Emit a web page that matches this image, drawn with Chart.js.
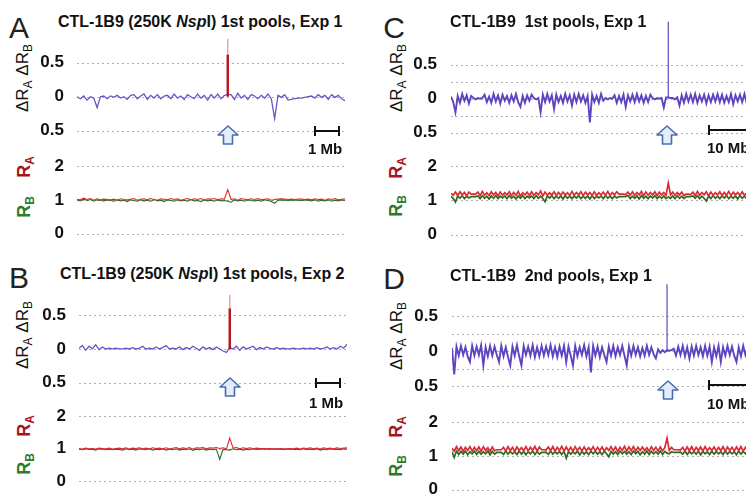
<!DOCTYPE html>
<html>
<head>
<meta charset="utf-8">
<script src="https://cdn.jsdelivr.net/npm/chart.js@4.4.1/dist/chart.umd.min.js"></script>
<style>
  html, body { margin: 0; padding: 0; background: #fff; }
  #fig { position: relative; width: 746px; height: 495px; overflow: hidden; font-family: "Liberation Sans", Arial, sans-serif; }
  canvas { position: absolute; }
  .letter { position: absolute; font-size: 30px; line-height: 1; color: #222; transform: translate(-50%, -50%); }
  .title { position: absolute; font-size: 16px; font-weight: bold; line-height: 1; white-space: pre; color: #111; transform: translate(0, -50%); }
  .ylab { position: absolute; font-size: 17px; line-height: 1; white-space: pre; color: #111; transform: translate(-50%, -50%) rotate(-90deg); }
  .ylab sub { font-size: 12px; vertical-align: -4px; line-height: 0; }
  .ra { color: #a8141c; font-weight: bold; font-size: 18px; }
  .rb { color: #2d7a2a; font-weight: bold; font-size: 18px; }
  .mb { position: absolute; font-size: 15px; font-weight: bold; line-height: 1; white-space: pre; color: #111; transform: translate(0, -50%); }
  svg { position: absolute; overflow: visible; }
</style>
</head>
<body>
<div id="fig">
  <canvas id="aTop"></canvas><canvas id="aBot"></canvas>
  <canvas id="bTop"></canvas><canvas id="bBot"></canvas>
  <canvas id="cTop"></canvas><canvas id="cBot"></canvas>
  <canvas id="dTop"></canvas><canvas id="dBot"></canvas>

  <div class="letter" style="left:19px;top:28px">A</div>
  <div class="letter" style="left:19px;top:278px">B</div>
  <div class="letter" style="left:394px;top:28px">C</div>
  <div class="letter" style="left:394px;top:279px">D</div>

  <div class="title" style="left:58px;top:22px">CTL-1B9 (250K <i>Nsp</i>I) 1st pools, Exp 1</div>
  <div class="title" style="left:60px;top:274px">CTL-1B9 (250K <i>Nsp</i>I) 1st pools, Exp 2</div>
  <div class="title" style="left:450px;top:22px">CTL-1B9  1st pools, Exp 1</div>
  <div class="title" style="left:450px;top:276px">CTL-1B9  2nd pools, Exp 1</div>

  <div class="ylab" style="left:22px;top:78px">ΔR<sub>A</sub> ΔR<sub>B</sub></div>
  <div class="ylab" style="left:22px;top:335px">ΔR<sub>A</sub> ΔR<sub>B</sub></div>
  <div class="ylab" style="left:396px;top:78px">ΔR<sub>A</sub> ΔR<sub>B</sub></div>
  <div class="ylab" style="left:396px;top:336px">ΔR<sub>A</sub> ΔR<sub>B</sub></div>

  <div class="ylab ra" style="left:24px;top:167px">R<sub>A</sub></div>
  <div class="ylab rb" style="left:24px;top:207px">R<sub>B</sub></div>
  <div class="ylab ra" style="left:24px;top:426px">R<sub>A</sub></div>
  <div class="ylab rb" style="left:24px;top:464px">R<sub>B</sub></div>
  <div class="ylab ra" style="left:396px;top:168px">R<sub>A</sub></div>
  <div class="ylab rb" style="left:396px;top:206px">R<sub>B</sub></div>
  <div class="ylab ra" style="left:396px;top:427px">R<sub>A</sub></div>
  <div class="ylab rb" style="left:396px;top:466px">R<sub>B</sub></div>

  <div class="mb" style="left:308px;top:148px">1 Mb</div>
  <div class="mb" style="left:309px;top:402px">1 Mb</div>
  <div class="mb" style="left:707px;top:147px">10 Mb</div>
  <div class="mb" style="left:707px;top:403px">10 Mb</div>
</div>

<script>
// y ticks
const upperTicks = [-0.5, -0.25, 0, 0.25, 0.5];
const lowerTicks = [0, 0.5, 1, 1.5, 2];

// panel A : CTL-1B9 (250K NspI) 1st pools, Exp 1
const deltaA = [0.00,-0.03,0.01,-0.05,0.00,-0.02,-0.16,0.00,0.01,-0.03,
  0.01,-0.01,0.02,-0.02,0.00,-0.04,0.02,0.03,-0.03,0.01,
  0.04,-0.04,0.02,-0.02,0.03,-0.03,0.01,0.02,-0.03,0.04,
  -0.02,0.01,-0.04,0.03,0.00,-0.03,0.04,-0.02,0.02,-0.05,
  0.03,-0.02,0.04,-0.03,0.02,0.03,0.03,-0.04,0.05,-0.02,
  0.02,-0.04,0.03,0.01,-0.03,0.02,-0.02,0.04,-0.03,-0.32,
  0.02,-0.01,0.03,-0.05,-0.04,-0.03,-0.02,-0.02,-0.01,0.00,
  0.01,-0.02,0.03,-0.01,0.02,-0.04,0.03,-0.01,0.02,-0.03,-0.06];
const peakPosA = 45;
const peakA = [0.62, 0.85];
const redA = [1.02,1.00,1.05,1.01,1.04,0.99,1.03,1.00,1.02,1.01,
  1.00,1.02,0.99,1.03,1.01,1.00,1.02,1.04,0.99,1.02,
  1.03,1.00,1.04,1.01,0.99,1.03,1.02,1.00,1.04,1.01,
  1.03,0.99,1.02,1.04,1.00,1.03,1.01,1.04,0.99,1.03,
  1.02,1.04,1.00,1.03,1.02,1.30,1.01,1.03,0.99,1.04,
  1.02,1.00,1.03,1.01,1.04,1.00,1.02,1.03,0.99,1.01,
  1.02,1.03,1.02,1.01,1.02,1.01,1.02,1.02,1.01,1.02,
  1.00,1.03,1.01,1.02,0.99,1.03,1.01,1.04,1.00,1.02,1.03];
const greenA = [1.00,0.97,1.02,0.98,1.01,0.96,1.00,0.98,0.97,1.00,
  0.98,0.96,1.00,0.97,0.99,0.95,1.00,0.98,0.96,1.00,
  0.97,0.99,0.96,1.01,0.97,0.99,0.95,1.00,0.98,0.96,
  1.00,0.97,0.99,0.96,1.01,0.97,0.98,0.95,1.00,0.97,
  0.99,0.96,1.00,0.97,0.98,0.96,0.93,1.00,0.97,0.99,
  0.96,1.00,0.98,0.97,0.99,0.96,1.00,0.98,0.95,0.90,
  0.99,1.00,0.99,0.98,0.99,1.00,0.99,0.98,1.00,0.99,
  0.97,1.00,0.96,0.99,0.97,1.00,0.96,0.99,0.97,1.00,0.98];

// panel B : CTL-1B9 (250K NspI) 1st pools, Exp 2
const deltaB = [0.01,0.05,-0.02,0.04,0.00,0.06,-0.01,0.03,0.00,0.01,
  0.00,0.01,0.00,0.00,0.01,0.00,0.02,0.00,0.01,0.04,
  0.00,0.01,0.00,0.03,0.00,0.02,0.05,0.00,0.01,0.00,
  0.03,-0.01,0.02,0.00,0.04,0.01,-0.02,0.03,0.00,0.02,
  -0.01,0.03,0.00,-0.03,-0.05,0.02,0.00,0.04,-0.02,0.03,
  0.00,0.02,0.04,-0.01,0.02,0.00,0.03,0.01,0.00,0.02,
  0.00,0.01,0.00,0.00,0.01,0.00,0.00,0.01,0.00,0.01,
  0.00,0.02,0.00,0.01,0.03,0.00,0.02,0.00,0.04,0.01,0.07];
const peakPosB = 45;
const peakB = [0.60, 0.80];
const redB = [1.01,0.99,1.02,1.00,1.01,0.99,1.02,1.01,1.00,1.02,
  0.99,1.01,1.02,1.00,1.03,0.99,1.02,1.01,1.03,1.00,
  1.02,0.99,1.03,1.01,1.02,1.00,1.03,0.99,1.02,1.04,
  1.00,1.03,1.01,1.04,0.99,1.03,1.02,1.04,1.00,1.03,
  1.02,1.04,1.01,1.03,1.00,1.33,1.02,1.04,1.00,1.03,
  1.01,1.03,1.00,1.02,1.01,1.01,1.00,1.01,1.00,1.00,
  1.01,1.00,1.00,1.01,1.00,1.02,0.99,1.02,1.01,1.03,
  1.00,1.02,0.99,1.03,1.01,1.02,1.00,1.03,1.01,1.02,1.03];
const greenB = [0.99,0.97,1.00,0.98,0.99,0.96,1.00,0.98,0.97,0.99,
  0.97,0.99,0.98,0.96,1.00,0.97,0.99,0.96,1.00,0.98,
  0.97,1.00,0.96,0.99,0.97,1.00,0.96,0.99,0.97,1.00,
  0.96,0.99,0.97,1.00,0.95,0.99,0.97,1.00,0.96,0.99,
  0.97,0.99,0.68,0.98,0.97,0.96,1.00,0.97,0.99,0.96,
  0.99,0.97,1.00,0.98,0.99,0.99,0.99,0.99,0.99,0.99,
  0.99,0.98,0.99,0.99,0.98,0.99,0.97,1.00,0.98,0.99,
  0.97,1.00,0.96,0.99,0.97,1.00,0.98,0.99,0.97,1.00,0.99];

// panel C : CTL-1B9 1st pools, Exp 1
const deltaC = [0.03,-0.05,-0.20,0.04,-0.06,0.07,-0.03,0.05,-0.07,0.04,
  0.01,-0.01,0.01,0.00,0.01,0.06,-0.05,0.03,-0.06,0.07,
  -0.04,0.05,-0.07,0.06,-0.03,0.04,-0.06,0.05,-0.04,0.07,
  -0.05,-0.12,0.04,-0.06,0.05,-0.03,0.06,0.01,-0.01,0.01,
  -0.20,0.06,-0.05,0.07,-0.04,0.05,-0.15,0.06,-0.05,0.04,
  -0.06,0.07,-0.04,0.05,-0.10,0.06,-0.05,0.07,-0.04,0.05,
  -0.06,0.04,-0.35,0.06,-0.05,0.04,-0.06,0.07,-0.03,0.01,
  -0.01,0.01,0.00,0.05,-0.06,0.04,-0.05,0.06,-0.12,0.05,
  -0.04,0.06,-0.05,0.07,-0.04,0.05,-0.06,0.04,-0.05,0.06,
  0.01,-0.01,0.01,0.00,0.01,-0.13,0.02,0.02,0.01,0.01,
  -0.01,0.02,-0.10,0.05,-0.06,0.07,-0.04,0.06,-0.05,0.07,
  -0.06,0.05,-0.04,0.06,-0.07,0.05,-0.05,0.06,-0.04,0.07,
  -0.05,0.06,-0.06,0.04,-0.05,0.07,-0.08,0.05,-0.04,0.06,
  -0.05,0.07,-0.06,0.04,-0.05,0.06,-0.04,0.07,-0.05,0.05,
  -0.06,0.06,-0.04,0.05,-0.07,0.06,-0.05,0.04,-0.06,0.05,-0.03];
const peakPosC = 97;
const peakC = [1.13];
const redC = [1.20,1.15,1.24,1.14,1.25,1.16,1.23,1.13,1.24,1.18,
  1.18,1.18,1.24,1.14,1.26,1.15,1.22,1.14,1.25,1.16,
  1.23,1.13,1.24,1.15,1.22,1.16,1.25,1.14,1.23,1.15,
  1.26,1.13,1.22,1.16,1.24,1.14,1.25,1.15,1.23,1.16,
  1.27,1.13,1.24,1.15,1.22,1.16,1.25,1.14,1.23,1.15,
  1.24,1.16,1.22,1.14,1.26,1.15,1.23,1.16,1.25,1.14,
  1.24,1.16,1.23,1.15,1.25,1.14,1.22,1.16,1.24,1.15,
  1.26,1.14,1.23,1.16,1.25,1.18,1.18,1.18,1.17,1.24,
  1.15,1.25,1.14,1.23,1.16,1.26,1.14,1.24,1.15,1.23,
  1.16,1.25,1.14,1.24,1.16,1.23,1.15,1.50,1.16,1.24,
  1.15,1.23,1.16,1.24,1.14,1.18,1.18,1.17,1.24,1.14,
  1.26,1.15,1.23,1.16,1.25,1.13,1.24,1.15,1.22,1.16,
  1.25,1.14,1.23,1.15,1.26,1.14,1.24,1.16,1.23,1.15,
  1.25,1.14,1.22,1.16,1.24,1.15,1.23,1.14,1.25,1.16,
  1.24,1.15,1.26,1.14,1.23,1.16,1.25,1.15,1.22,1.16,1.23];
const greenC = [1.12,1.05,0.95,1.13,1.06,1.14,1.05,1.12,1.07,1.11,
  1.11,1.11,1.13,1.05,1.14,1.06,1.12,1.04,1.13,1.06,
  1.14,1.05,1.12,1.07,1.13,1.05,1.14,1.06,1.12,1.04,
  1.13,1.06,1.14,1.05,1.12,1.07,1.13,1.05,1.14,1.06,
  1.12,1.05,0.96,1.13,1.07,1.14,1.05,1.12,1.06,1.13,
  1.04,1.14,1.06,1.12,1.05,1.13,1.07,1.14,1.05,1.12,
  1.06,1.13,1.04,1.14,1.05,1.12,1.07,1.13,1.05,1.14,
  1.06,1.12,1.05,1.13,1.07,1.11,1.11,1.11,1.11,1.14,
  1.05,1.12,1.06,1.13,1.04,1.14,1.06,1.12,1.05,1.13,
  1.07,1.14,1.05,1.12,1.06,1.13,1.05,1.10,1.06,1.13,
  1.05,1.14,1.06,1.12,1.05,1.11,1.11,1.11,1.13,1.06,
  1.14,1.05,1.12,1.06,0.98,1.13,1.05,1.14,1.06,1.12,
  1.05,1.13,1.07,1.14,1.05,1.12,1.06,1.13,1.04,1.14,
  1.06,1.12,1.05,1.13,1.07,1.14,1.05,1.12,1.06,1.13,
  1.05,1.14,1.06,1.12,1.07,1.13,1.05,1.14,1.06,1.12,1.13];

// panel D : CTL-1B9 2nd pools, Exp 1
const deltaD = [0.05,-0.33,0.07,-0.06,0.08,-0.05,0.06,-0.07,-0.15,0.08,
  -0.06,0.07,-0.05,0.09,-0.20,0.06,-0.07,0.08,-0.06,0.07,
  -0.05,-0.15,0.08,-0.07,0.06,-0.08,-0.20,0.07,-0.06,0.09,
  -0.07,-0.20,0.08,-0.05,0.07,-0.06,0.09,-0.08,0.06,-0.07,
  0.08,-0.06,0.07,-0.05,0.09,-0.07,0.06,-0.08,0.07,-0.06,
  0.08,-0.15,0.07,-0.06,-0.20,0.08,-0.07,0.06,-0.05,0.09,
  -0.07,0.06,-0.30,0.08,-0.06,0.07,-0.08,0.06,-0.05,-0.15,
  0.07,-0.06,0.08,-0.07,0.06,-0.05,0.08,-0.06,-0.20,0.07,
  -0.06,0.08,-0.05,0.06,-0.07,0.05,-0.06,0.08,-0.05,0.06,
  -0.04,-0.10,0.03,-0.02,0.02,-0.01,0.02,0.01,0.02,0.04,
  -0.06,0.07,-0.05,0.08,-0.07,0.06,-0.10,0.07,-0.06,0.08,
  -0.05,0.06,-0.07,0.08,-0.06,0.07,-0.15,0.06,-0.07,0.08,
  -0.15,0.06,-0.06,0.08,-0.05,0.07,-0.06,-0.15,0.06,-0.07,
  0.08,-0.05,0.07,-0.06,0.08,-0.07,0.06,-0.05,0.07,-0.08,
  0.06,-0.06,0.07,-0.05,0.08,-0.07,0.06,-0.06,0.07,-0.05,0.05];
const peakPosD = 96;
const peakD = [0.96];
const redD = [1.22,1.14,1.27,1.15,1.26,1.13,1.25,1.16,1.27,1.14,
  1.25,1.15,1.26,1.14,1.27,1.16,1.24,1.13,1.26,1.15,
  1.18,1.18,1.18,1.25,1.14,1.27,1.15,1.25,1.13,1.26,
  1.16,1.24,1.15,1.27,1.14,1.25,1.16,1.28,1.14,1.26,
  1.18,1.18,1.17,1.26,1.15,1.27,1.13,1.25,1.16,1.28,
  1.14,1.26,1.15,1.25,1.13,1.27,1.16,1.25,1.14,1.26,
  1.15,1.24,1.16,1.27,1.14,1.25,1.15,1.26,1.14,1.24,
  1.16,1.27,1.15,1.26,1.13,1.25,1.16,1.28,1.14,1.26,
  1.15,1.27,1.14,1.25,1.16,1.26,1.15,1.24,1.14,1.27,
  1.16,1.25,1.14,1.26,1.15,1.24,1.52,1.16,1.25,1.18,
  1.18,1.18,1.17,1.25,1.14,1.26,1.15,1.27,1.13,1.25,
  1.16,1.26,1.14,1.27,1.15,1.24,1.16,1.26,1.14,1.25,
  1.15,1.27,1.13,1.26,1.16,1.25,1.14,1.26,1.15,1.27,
  1.14,1.25,1.16,1.26,1.15,1.27,1.14,1.25,1.16,1.26,
  1.15,1.25,1.14,1.27,1.15,1.26,1.16,1.25,1.14,1.26,1.24];
const greenD = [1.12,0.95,1.14,1.04,1.13,1.05,1.14,1.03,1.12,1.06,
  1.14,1.04,1.13,1.05,1.12,1.06,1.14,1.03,1.13,1.05,
  1.10,1.10,1.10,1.04,1.14,1.05,1.13,1.06,1.12,1.04,
  1.14,1.05,1.13,1.03,1.12,1.06,1.14,1.04,1.13,1.05,
  1.10,1.10,1.11,1.04,1.14,1.05,1.12,1.06,1.13,1.04,
  1.14,0.93,1.13,1.05,1.12,1.06,1.14,1.03,1.13,1.05,
  1.12,1.04,1.14,1.06,1.13,1.05,1.12,1.04,1.14,1.06,
  0.97,1.13,1.05,1.12,1.04,1.14,1.06,1.13,1.05,1.12,
  1.04,1.14,1.06,1.13,1.03,1.12,1.05,1.14,1.04,1.13,
  1.06,1.12,1.05,1.14,1.04,1.13,1.08,1.06,1.12,1.10,
  1.10,1.10,1.11,1.05,1.14,1.04,1.13,1.06,1.12,1.05,
  1.14,1.03,1.13,1.06,1.12,1.04,1.14,1.05,1.13,1.06,
  1.12,1.04,1.14,1.05,1.13,1.06,1.12,1.03,1.14,1.05,
  1.13,1.06,1.12,1.04,1.14,1.05,1.13,1.06,1.12,1.04,
  1.14,1.05,1.13,1.06,1.12,1.04,1.14,1.05,1.13,1.06,1.12];

const AXIS_W = 40;
const PURPLE_AB = '#6d52c4', PURPLE_CD = '#5f44c0';
const RED = '#dc2a34', GREEN = '#2f6a22';

function pts(arr) {
  return arr.map((v, i) => ({ x: i, y: v }));
}

// place canvas so that value 0 sits at `zero` px and one unit is `unit` px
function placeCanvas(id, lay) {
  const c = document.getElementById(id);
  const h = Math.round((lay.max - lay.min) * lay.unit);
  c.width = lay.width + AXIS_W;
  c.height = h;
  c.style.left = (lay.left - AXIS_W) + 'px';
  c.style.top = Math.round(lay.zero - lay.max * lay.unit) + 'px';
  return c;
}

// dashed horizontal guides at every y tick
const guideLines = {
  id: 'guideLines',
  beforeDatasetsDraw(chart) {
    const { ctx, chartArea, scales } = chart;
    ctx.save();
    ctx.strokeStyle = '#b0b0b0';
    ctx.lineWidth = 1;
    ctx.setLineDash([2, 3]);
    scales.y.ticks.forEach(t => {
      const y = Math.round(scales.y.getPixelForValue(t.value)) + 0.5;
      ctx.beginPath();
      ctx.moveTo(chartArea.left, y);
      ctx.lineTo(chartArea.right, y);
      ctx.stroke();
    });
    ctx.restore();
  }
};

function makeChart(id, lay, datasets, n, ticks, labelFn, pad) {
  const c = placeCanvas(id, lay);
  return new Chart(c.getContext('2d'), {
    type: 'line',
    data: { datasets: datasets },
    plugins: [guideLines],
    options: {
      responsive: false,
      animation: false,
      events: [],
      layout: { padding: 0 },
      plugins: { legend: { display: false }, tooltip: { enabled: false } },
      elements: { point: { radius: 0 }, line: { tension: 0 } },
      scales: {
        x: { type: 'linear', display: false, min: 0, max: n - 1 },
        y: {
          min: lay.min,
          max: lay.max,
          afterBuildTicks: s => { s.ticks = ticks.map(v => ({ value: v })); },
          afterFit: s => { s.width = AXIS_W; s.paddingTop = 0; s.paddingBottom = 0; },
          grid: { display: false },
          border: { display: false },
          ticks: {
            padding: pad,
            color: '#111',
            font: { family: 'Liberation Sans', weight: 'bold', size: 17 },
            callback: labelFn
          }
        }
      }
    }
  });
}

const upperLabel = v => (v === 0 ? '0' : Math.abs(v) === 0.5 ? '0.5' : '');
const lowerLabel = v => (Number.isInteger(v) ? String(v) : '');

function deltaSets(trace, pos, peak, color, twoTone, w) {
  const sets = [];
  if (twoTone) {
    sets.push({ data: [{ x: pos, y: peak[0] }, { x: pos, y: peak[1] }], borderColor: '#ee8c98', borderWidth: 1.2 });
    sets.push({ data: [{ x: pos, y: 0 }, { x: pos, y: peak[0] }], borderColor: '#b8121c', borderWidth: 2.4 });
  } else {
    sets.push({ data: [{ x: pos, y: 0 }, { x: pos, y: peak[0] }], borderColor: color, borderWidth: 1.2 });
  }
  sets.push({ data: pts(trace), borderColor: color, borderWidth: w });
  return sets;
}

function ratioSets(red, green, w) {
  return [
    { data: pts(red), borderColor: RED, borderWidth: w },
    { data: pts(green), borderColor: GREEN, borderWidth: w }
  ];
}

const layouts = {
  aTop: { left: 77, width: 268, zero: 97, unit: 68, min: -0.68, max: 0.95 },
  aBot: { left: 77, width: 268, zero: 234, unit: 34, min: -0.3, max: 2.35 },
  bTop: { left: 79, width: 268, zero: 349, unit: 68, min: -0.68, max: 0.9 },
  bBot: { left: 79, width: 268, zero: 481, unit: 32.5, min: -0.3, max: 2.35 },
  cTop: { left: 451, width: 336, zero: 99, unit: 68, min: -0.68, max: 1.2 },
  cBot: { left: 451, width: 336, zero: 235, unit: 34.5, min: -0.3, max: 2.35 },
  dTop: { left: 452, width: 336, zero: 351, unit: 70, min: -0.68, max: 1.05 },
  dBot: { left: 452, width: 336, zero: 490, unit: 34, min: -0.3, max: 2.35 }
};

makeChart('aTop', layouts.aTop, deltaSets(deltaA, peakPosA, peakA, PURPLE_AB, true, 1.3), deltaA.length, upperTicks, upperLabel, 5);
makeChart('aBot', layouts.aBot, ratioSets(redA, greenA, 1.1), redA.length, lowerTicks, lowerLabel, 5);
makeChart('bTop', layouts.bTop, deltaSets(deltaB, peakPosB, peakB, PURPLE_AB, true, 1.3), deltaB.length, upperTicks, upperLabel, 5);
makeChart('bBot', layouts.bBot, ratioSets(redB, greenB, 1.1), redB.length, lowerTicks, lowerLabel, 5);
makeChart('cTop', layouts.cTop, deltaSets(deltaC, peakPosC, peakC, PURPLE_CD, false, 1.9), deltaC.length, upperTicks, upperLabel, 6);
makeChart('cBot', layouts.cBot, ratioSets(redC, greenC, 1.7), redC.length, lowerTicks, lowerLabel, 6);
makeChart('dTop', layouts.dTop, deltaSets(deltaD, peakPosD, peakD, PURPLE_CD, false, 1.9), deltaD.length, upperTicks, upperLabel, 6);
makeChart('dBot', layouts.dBot, ratioSets(redD, greenD, 1.7), redD.length, lowerTicks, lowerLabel, 6);

// arrows and scale bars (annotations)
const fig = document.getElementById('fig');
const NS = 'http://www.w3.org/2000/svg';
function arrow(cx, cy) {
  const s = document.createElementNS(NS, 'svg');
  s.setAttribute('width', 22); s.setAttribute('height', 20);
  s.style.left = (cx - 11) + 'px'; s.style.top = (cy - 10) + 'px';
  s.innerHTML = '<polygon points="11,1 21,10 15.5,10 15.5,19 6.5,19 6.5,10 1,10" fill="#e4eefb" stroke="#4b6cb0" stroke-width="1.6" stroke-linejoin="round"/>';
  fig.appendChild(s);
}
function scaleBar(x, y, w) {
  const s = document.createElementNS(NS, 'svg');
  s.setAttribute('width', w + 2); s.setAttribute('height', 12);
  s.style.left = (x - 1) + 'px'; s.style.top = (y - 6) + 'px';
  s.innerHTML = '<line x1="1" y1="6" x2="' + (w + 1) + '" y2="6" stroke="#111" stroke-width="2"/>' +
    '<line x1="1" y1="1" x2="1" y2="11" stroke="#111" stroke-width="2"/>' +
    '<line x1="' + (w + 1) + '" y1="1" x2="' + (w + 1) + '" y2="11" stroke="#111" stroke-width="2"/>';
  fig.appendChild(s);
}
arrow(228, 135); arrow(230, 387); arrow(667, 135); arrow(668, 390);
scaleBar(315, 131, 24); scaleBar(316, 383, 24); scaleBar(709, 130, 60); scaleBar(709, 385, 60);
</script>
</body>
</html>
